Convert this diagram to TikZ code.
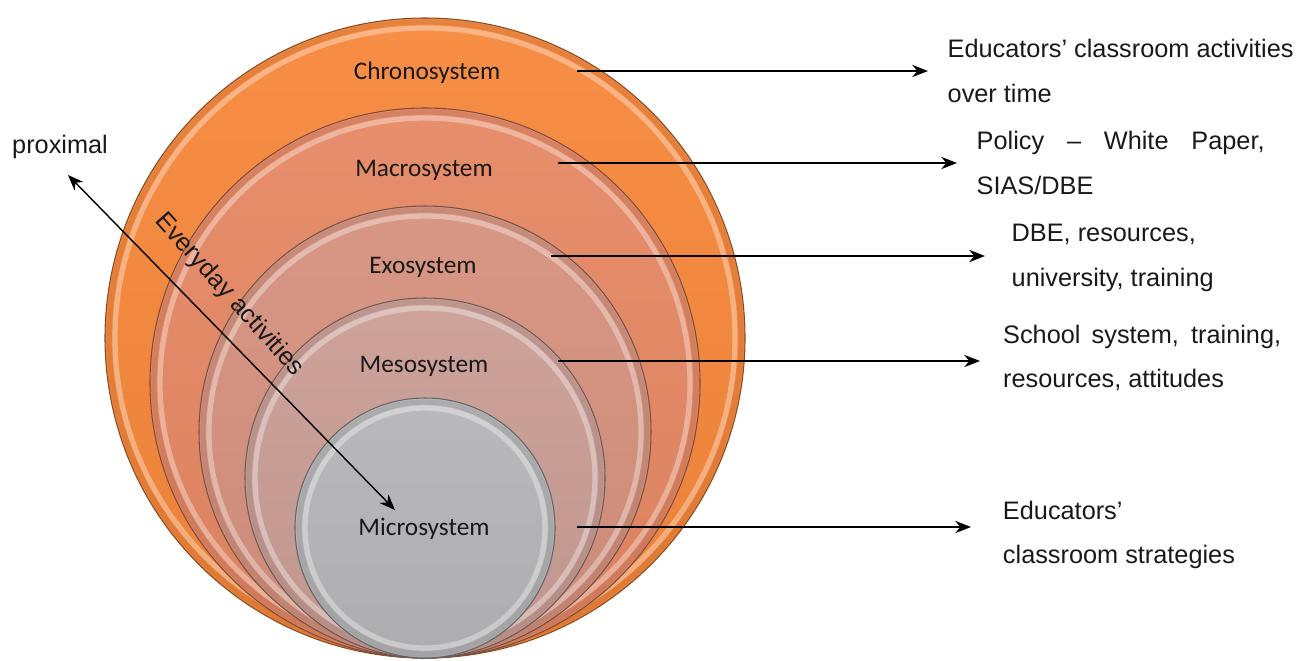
\documentclass[tikz,border=0pt]{standalone}
\usepackage{fontspec}
\setmainfont{Liberation Sans}
\newfontfamily\calib{Carlito}
\usetikzlibrary{positioning,arrows.meta}
\definecolor{chronoC}{RGB}{247,136,60}
\definecolor{macroC}{RGB}{230,136,100}
\definecolor{exoC}{RGB}{214,146,126}
\definecolor{mesoC}{RGB}{202,158,150}
\definecolor{microC}{RGB}{182,182,184}
\begin{document}
\begin{tikzpicture}[x=0.02cm, y=-0.02cm, >={Stealth[length=9pt,width=7pt]},
    sys/.style={font=\calib\fontsize{14.4}{16}\selectfont, text=black!90},
    desc/.style={anchor=west, align=left, inner xsep=11pt, inner ysep=0pt,
        font=\fontsize{14.4}{25.5}\selectfont, text=black!90},
    link/.style={->, line width=0.8pt}]
    \useasboundingbox (0,0) rectangle (1311,660);
    % nested systems, all touching at the bottom
    \foreach \r/\c in {320/chronoC, 275/macroC, 226/exoC, 180/mesoC, 130/microC} {
        \shade[top color=\c!95!white, bottom color=\c!95!black, draw=\c!55!black, line width=0.6pt]
            (425,658-\r) circle[radius=\r];
        \draw[\c!80!black, opacity=.35, line width=3pt] (425,658-\r) circle[radius=\r-4];
        \draw[white, opacity=.35, line width=3pt] (425,658-\r) circle[radius=\r-10];
    }
    \node[sys] (chrono) at (427,73) {Chronosystem};
    \node[sys] (macro) at (424,170) {Macrosystem};
    \node[sys] (exo) at (423,267) {Exosystem};
    \node[sys] (meso) at (424,366) {Mesosystem};
    \node[sys] (micro) at (424,529) {Microsystem};
    % descriptions
    \node[desc] (t1) at (928,71) {Educators’ classroom activities\\over time};
    \node[desc] (t2) at (957,163) {\makebox[5.76cm][s]{Policy – White Paper,}\\SIAS/DBE};
    \node[desc, inner xsep=15pt] (t3) at (985,258) {DBE, resources,\\university, training};
    \node[desc, inner xsep=13pt] (t4) at (980,358) {\makebox[5.56cm][s]{School system, training,}\\resources, attitudes};
    \node[desc, inner xsep=18pt] (t5) at (971,535) {Educators’\\classroom strategies};
    \coordinate (s1) at (577,71);
    \coordinate (s2) at (558,163);
    \coordinate (s3) at (551,256);
    \coordinate (s4) at (558,361);
    \coordinate (s5) at (577,527);
    \draw[link] (s1) -- (s1 -| t1.west);
    \draw[link] (s2) -- (s2 -| t2.west);
    \draw[link] (s3) -- (s3 -| t3.west);
    \draw[link] (s4) -- (s4 -| t4.west);
    \draw[link] (s5) -- (s5 -| t5.west);
    % proximal direction
    \node[font=\fontsize{14.4}{16}\selectfont, text=black!90] (prox) at (60,147) {proximal};
    \coordinate (inner) at (395,510);
    \coordinate (outer) at (68,175);
    \draw[<->, line width=0.8pt] (inner) -- (outer);
    \node[rotate=-48, font=\fontsize{14.4}{16}\selectfont, text=black!90] (every) at (229,295) {Everyday activities};
\end{tikzpicture}
\end{document}
